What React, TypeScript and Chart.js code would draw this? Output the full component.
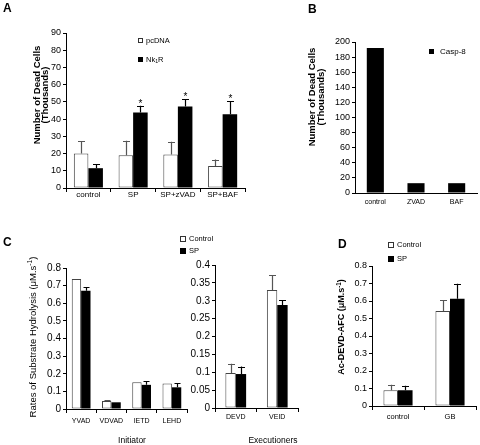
import React, { useEffect, useRef } from 'react';
import { Chart, registerables } from 'chart.js';

Chart.register(...registerables);

const SANS = '"Liberation Sans", Arial, Helvetica, sans-serif';
const NARROW = '"Liberation Sans Narrow", "Liberation Sans", Arial, sans-serif';

// ---------------- Panel A ----------------
const A_CATEGORIES = ['control', 'SP', 'SP+zVAD', 'SP+BAF'];
const A_PCDNA = [20, 19, 19.5, 12.8];
const A_PCDNA_ERR = [7.3, 8.4, 7.3, 3.7];
const A_NK1R = [11.5, 43.8, 47.3, 42.8];
const A_NK1R_ERR = [2.5, 3.9, 4.3, 7.6];
const A_NK1R_SIGNIFICANT = [false, true, true, true];
const A_Y_MAX = 90;
const A_Y_STEP = 10;

// ---------------- Panel B ----------------
const B_CATEGORIES = ['control', 'ZVAD', 'BAF'];
const B_CASP8 = [192, 13, 13];
const B_Y_MAX = 200;
const B_Y_STEP = 20;

// ---------------- Panel C ----------------
const C_INIT_CATEGORIES = ['YVAD', 'VDVAD', 'IETD', 'LEHD'];
const C_INIT_CONTROL = [0.737, 0.046, 0.152, 0.144];
const C_INIT_CONTROL_ERR = [0, 0.003, 0, 0];
const C_INIT_SP = [0.671, 0.038, 0.137, 0.123];
const C_INIT_SP_ERR = [0.021, 0, 0.022, 0.025];
const C_INIT_Y_MAX = 0.8;
const C_INIT_Y_STEP = 0.1;

const C_EXEC_CATEGORIES = ['DEVD', 'VEID'];
const C_EXEC_CONTROL = [0.098, 0.33];
const C_EXEC_CONTROL_ERR = [0.026, 0.042];
const C_EXEC_SP = [0.095, 0.288];
const C_EXEC_SP_ERR = [0.021, 0.013];
const C_EXEC_Y_MAX = 0.4;
const C_EXEC_Y_STEP = 0.05;

// ---------------- Panel D ----------------
const D_CATEGORIES = ['control', 'GB'];
const D_CONTROL = [0.09, 0.543];
const D_CONTROL_ERR = [0.032, 0.061];
const D_SP = [0.09, 0.613];
const D_SP_ERR = [0.026, 0.086];
const D_Y_MAX = 0.8;
const D_Y_STEP = 0.1;

// ---------------- layout ----------------
const W = 480;
const H = 445;
const Y_AXIS_W = 40;
const X_AXIS_H = 20;

type Seg = { t: string; sup?: boolean; sub?: boolean };
type TextSpec = {
  segs: Seg[];
  x: number;
  y: number;
  size: number;
  weight?: string;
  family: string;
  rotate?: boolean;
  align?: 'left' | 'center';
};
type LegendSpec = {
  segs: Seg[];
  fill: string;
  stroke: string;
  boxX: number;
  boxY: number;
  box: number;
  textX: number;
  textY: number;
  size: number;
  family: string;
};
type Decor = { texts: TextSpec[]; legend: LegendSpec[]; cap: number; starSize: number };

type DS = {
  label: string;
  data: number[];
  errors?: number[];
  stars?: boolean[];
  fill: string;
  border: string;
  borderWidth: number;
  errColor: string;
};

type Spec = {
  labels: string[];
  datasets: DS[];
  area: { l: number; t: number; r: number; b: number };
  yMax: number;
  yStep: number;
  yFont: { size: number; family: string };
  xFont: { size: number; family: string };
  xTickLen: number;
  xPad: number;
  catPct: number;
  decor: Decor;
};

function drawRich(ctx: CanvasRenderingContext2D, spec: TextSpec) {
  ctx.save();
  const fontOf = (sz: number) => `${spec.weight || 'normal'} ${sz}px ${spec.family}`;
  const parts = spec.segs.map((s) => {
    const sz = s.sup || s.sub ? spec.size * 0.7 : spec.size;
    ctx.font = fontOf(sz);
    return { s, sz, w: ctx.measureText(s.t).width };
  });
  const total = parts.reduce((a, p) => a + p.w, 0);
  ctx.translate(spec.x, spec.y);
  if (spec.rotate) ctx.rotate(-Math.PI / 2);
  let cx = spec.align === 'left' ? 0 : -total / 2;
  ctx.textBaseline = 'middle';
  ctx.textAlign = 'left';
  ctx.fillStyle = '#000';
  for (const p of parts) {
    ctx.font = fontOf(p.sz);
    const dy = p.s.sup ? -spec.size * 0.35 : p.s.sub ? spec.size * 0.3 : 0;
    ctx.fillText(p.s.t, cx, dy);
    cx += p.w;
  }
  ctx.restore();
}

function decorPlugin(decor: Decor) {
  return {
    id: 'decor',
    afterDatasetsDraw(chart: any) {
      const ctx: CanvasRenderingContext2D = chart.ctx;
      const yScale = chart.scales.y;
      chart.data.datasets.forEach((ds: any, i: number) => {
        if (!ds.errors) return;
        const meta = chart.getDatasetMeta(i);
        meta.data.forEach((el: any, j: number) => {
          const e = ds.errors[j];
          const v = ds.data[j];
          const top = yScale.getPixelForValue(v + (e || 0));
          const x = Math.round(el.x) + 0.5;
          if (e) {
            ctx.save();
            ctx.strokeStyle = ds.errColor;
            ctx.lineWidth = 1.2;
            ctx.beginPath();
            ctx.moveTo(x, el.y);
            ctx.lineTo(x, top);
            const ty = Math.round(top) + 0.5;
            ctx.moveTo(x - decor.cap, ty);
            ctx.lineTo(x + decor.cap, ty);
            ctx.stroke();
            ctx.restore();
          }
          if (ds.stars && ds.stars[j]) {
            ctx.save();
            ctx.fillStyle = '#000';
            ctx.font = `${decor.starSize}px ${SANS}`;
            ctx.textAlign = 'center';
            ctx.textBaseline = 'alphabetic';
            ctx.fillText('*', x, top + 1);
            ctx.restore();
          }
        });
      });
      for (const lg of decor.legend) {
        ctx.save();
        ctx.fillStyle = lg.fill;
        ctx.fillRect(lg.boxX, lg.boxY, lg.box, lg.box);
        ctx.strokeStyle = lg.stroke;
        ctx.lineWidth = 1;
        ctx.strokeRect(lg.boxX + 0.5, lg.boxY + 0.5, lg.box - 1, lg.box - 1);
        ctx.restore();
        drawRich(ctx, {
          segs: lg.segs,
          x: lg.textX,
          y: lg.textY,
          size: lg.size,
          family: lg.family,
          align: 'left',
        });
      }
      for (const t of decor.texts) drawRich(ctx, t);
    },
  };
}

function makeConfig(spec: Spec): any {
  const fmt = (v: any) => String(Math.round(Number(v) * 1000) / 1000);
  return {
    type: 'bar',
    data: {
      labels: spec.labels,
      datasets: spec.datasets.map((d) => ({
        label: d.label,
        data: d.data,
        errors: d.errors,
        stars: d.stars,
        errColor: d.errColor,
        backgroundColor: d.fill,
        borderColor: d.border,
        borderWidth: d.borderWidth,
        borderSkipped: false,
        categoryPercentage: spec.catPct,
        barPercentage: 1,
      })),
    },
    options: {
      responsive: false,
      maintainAspectRatio: false,
      animation: false,
      devicePixelRatio: 1,
      events: [],
      layout: {
        padding: {
          left: spec.area.l - Y_AXIS_W,
          top: spec.area.t,
          right: W - spec.area.r,
          bottom: H - spec.area.b - X_AXIS_H,
        },
      },
      plugins: {
        legend: { display: false },
        tooltip: { enabled: false },
        title: { display: false },
      },
      scales: {
        x: {
          type: 'category',
          offset: true,
          grid: {
            offset: true,
            drawOnChartArea: false,
            drawTicks: spec.xTickLen > 0,
            tickLength: spec.xTickLen,
            color: '#000',
            lineWidth: 1,
          },
          border: { display: true, color: '#000', width: 1 },
          ticks: {
            font: { size: spec.xFont.size, family: spec.xFont.family },
            color: '#000',
            padding: spec.xPad,
            maxRotation: 0,
            minRotation: 0,
            autoSkip: false,
          },
          afterFit: (s: any) => {
            s.height = X_AXIS_H;
          },
        },
        y: {
          min: 0,
          max: spec.yMax,
          ticks: {
            stepSize: spec.yStep,
            font: { size: spec.yFont.size, family: spec.yFont.family },
            color: '#000',
            padding: 2,
            callback: fmt,
          },
          grid: { drawOnChartArea: false, tickLength: 3, color: '#000', lineWidth: 1 },
          border: { display: true, color: '#000', width: 1 },
          afterFit: (s: any) => {
            s.width = Y_AXIS_W;
          },
        },
      },
    },
    plugins: [decorPlugin(spec.decor)],
  };
}

const WHITE = '#ffffff';
const BLACK = '#000000';
const OUTLINE = '#444444';
const UNIT: Seg[] = [{ t: 'M.s' }, { t: '-1', sup: true }, { t: ')' }];

function configA() {
  return makeConfig({
    labels: A_CATEGORIES,
    datasets: [
      { label: 'pcDNA', data: A_PCDNA, errors: A_PCDNA_ERR, fill: WHITE, border: OUTLINE, borderWidth: 1, errColor: '#555' },
      { label: 'Nk1R', data: A_NK1R, errors: A_NK1R_ERR, stars: A_NK1R_SIGNIFICANT, fill: BLACK, border: BLACK, borderWidth: 0, errColor: '#000' },
    ],
    area: { l: 66, t: 33, r: 245, b: 188 },
    yMax: A_Y_MAX,
    yStep: A_Y_STEP,
    yFont: { size: 9, family: NARROW },
    xFont: { size: 8, family: NARROW },
    xTickLen: 4,
    xPad: -2,
    catPct: 0.65,
    decor: {
      cap: 3.5,
      starSize: 10,
      texts: [
        { segs: [{ t: 'A' }], x: 3, y: 9, size: 12, weight: 'bold', family: SANS, align: 'left' },
        { segs: [{ t: 'Number of Dead Cells' }], x: 37, y: 95, size: 9.5, weight: 'bold', family: NARROW, rotate: true },
        { segs: [{ t: '(Thousands)' }], x: 45.5, y: 95, size: 9.5, weight: 'bold', family: NARROW, rotate: true },
      ],
      legend: [
        { segs: [{ t: 'pcDNA' }], fill: WHITE, stroke: '#333', boxX: 138, boxY: 38, box: 5, textX: 146, textY: 40.5, size: 7.5, family: NARROW },
        { segs: [{ t: 'Nk' }, { t: '1', sub: true }, { t: 'R' }], fill: BLACK, stroke: BLACK, boxX: 138, boxY: 57, box: 5, textX: 146, textY: 59.5, size: 7.5, family: NARROW },
      ],
    },
  });
}

function configB() {
  return makeConfig({
    labels: B_CATEGORIES,
    datasets: [{ label: 'Casp-8', data: B_CASP8, fill: BLACK, border: BLACK, borderWidth: 0, errColor: '#000' }],
    area: { l: 355, t: 42, r: 477, b: 193 },
    yMax: B_Y_MAX,
    yStep: B_Y_STEP,
    yFont: { size: 9, family: SANS },
    xFont: { size: 7, family: SANS },
    xTickLen: 0,
    xPad: 5,
    catPct: 0.42,
    decor: {
      cap: 3,
      starSize: 10,
      texts: [
        { segs: [{ t: 'B' }], x: 308, y: 10, size: 12, weight: 'bold', family: SANS, align: 'left' },
        { segs: [{ t: 'Number of Dead Cells' }], x: 312, y: 97, size: 9.5, weight: 'bold', family: NARROW, rotate: true },
        { segs: [{ t: '(Thousands)' }], x: 321, y: 97, size: 9.5, weight: 'bold', family: NARROW, rotate: true },
      ],
      legend: [
        { segs: [{ t: 'Casp-8' }], fill: BLACK, stroke: BLACK, boxX: 429, boxY: 49, box: 5, textX: 440, textY: 52, size: 8, family: SANS },
      ],
    },
  });
}

function configC1() {
  return makeConfig({
    labels: C_INIT_CATEGORIES,
    datasets: [
      { label: 'Control', data: C_INIT_CONTROL, errors: C_INIT_CONTROL_ERR, fill: WHITE, border: OUTLINE, borderWidth: 1, errColor: '#555' },
      { label: 'SP', data: C_INIT_SP, errors: C_INIT_SP_ERR, fill: BLACK, border: BLACK, borderWidth: 0, errColor: '#000' },
    ],
    area: { l: 66, t: 268, r: 187, b: 409 },
    yMax: C_INIT_Y_MAX,
    yStep: C_INIT_Y_STEP,
    yFont: { size: 10, family: SANS },
    xFont: { size: 7, family: SANS },
    xTickLen: 4,
    xPad: 4,
    catPct: 0.62,
    decor: {
      cap: 3,
      starSize: 10,
      texts: [
        { segs: [{ t: 'C' }], x: 3, y: 242.5, size: 12, weight: 'bold', family: SANS, align: 'left' },
        { segs: [{ t: 'Rates of Substrate Hydrolysis (\u03bc' }, ...UNIT], x: 33, y: 337, size: 9.5, family: SANS, rotate: true },
        { segs: [{ t: 'Initiator' }], x: 132, y: 441, size: 8.5, family: SANS },
        { segs: [{ t: 'Executioners' }], x: 273, y: 441, size: 8.5, family: SANS },
      ],
      legend: [
        { segs: [{ t: 'Control' }], fill: WHITE, stroke: '#333', boxX: 180, boxY: 236, box: 6, textX: 189, textY: 239, size: 7.5, family: SANS },
        { segs: [{ t: 'SP' }], fill: BLACK, stroke: BLACK, boxX: 180, boxY: 248, box: 6, textX: 189, textY: 251, size: 7.5, family: SANS },
      ],
    },
  });
}

function configC2() {
  return makeConfig({
    labels: C_EXEC_CATEGORIES,
    datasets: [
      { label: 'Control', data: C_EXEC_CONTROL, errors: C_EXEC_CONTROL_ERR, fill: WHITE, border: OUTLINE, borderWidth: 1, errColor: '#555' },
      { label: 'SP', data: C_EXEC_SP, errors: C_EXEC_SP_ERR, fill: BLACK, border: BLACK, borderWidth: 0, errColor: '#000' },
    ],
    area: { l: 215, t: 265, r: 298, b: 408 },
    yMax: C_EXEC_Y_MAX,
    yStep: C_EXEC_Y_STEP,
    yFont: { size: 10, family: SANS },
    xFont: { size: 7, family: SANS },
    xTickLen: 4,
    xPad: 1,
    catPct: 0.5,
    decor: { cap: 3.5, starSize: 10, texts: [], legend: [] },
  });
}

function configD() {
  return makeConfig({
    labels: D_CATEGORIES,
    datasets: [
      { label: 'Control', data: D_CONTROL, errors: D_CONTROL_ERR, fill: WHITE, border: OUTLINE, borderWidth: 1, errColor: '#555' },
      { label: 'SP', data: D_SP, errors: D_SP_ERR, fill: BLACK, border: BLACK, borderWidth: 0, errColor: '#000' },
    ],
    area: { l: 372, t: 266, r: 476, b: 406 },
    yMax: D_Y_MAX,
    yStep: D_Y_STEP,
    yFont: { size: 9, family: SANS },
    xFont: { size: 7.5, family: SANS },
    xTickLen: 4,
    xPad: 2,
    catPct: 0.56,
    decor: {
      cap: 3.5,
      starSize: 10,
      texts: [
        { segs: [{ t: 'D' }], x: 338, y: 245, size: 12, weight: 'bold', family: SANS, align: 'left' },
        { segs: [{ t: 'Ac-DEVD-AFC (\u03bc' }, ...UNIT], x: 342, y: 327, size: 9, weight: 'bold', family: SANS, rotate: true },
      ],
      legend: [
        { segs: [{ t: 'Control' }], fill: WHITE, stroke: '#333', boxX: 388, boxY: 242, box: 6, textX: 397, textY: 245, size: 7.5, family: SANS },
        { segs: [{ t: 'SP' }], fill: BLACK, stroke: BLACK, boxX: 388, boxY: 256, box: 6, textX: 397, textY: 259, size: 7.5, family: SANS },
      ],
    },
  });
}

export default function App() {
  const refA = useRef<HTMLCanvasElement>(null);
  const refB = useRef<HTMLCanvasElement>(null);
  const refC1 = useRef<HTMLCanvasElement>(null);
  const refC2 = useRef<HTMLCanvasElement>(null);
  const refD = useRef<HTMLCanvasElement>(null);

  useEffect(() => {
    const pairs: [React.RefObject<HTMLCanvasElement>, () => any][] = [
      [refA, configA],
      [refB, configB],
      [refC1, configC1],
      [refC2, configC2],
      [refD, configD],
    ];
    const charts: Chart[] = [];
    for (const [ref, cfg] of pairs) {
      if (ref.current) charts.push(new Chart(ref.current, cfg()));
    }
    return () => charts.forEach((c) => c.destroy());
  }, []);

  const canvasStyle: React.CSSProperties = { position: 'absolute', left: 0, top: 0, width: W, height: H };
  return (
    <div style={{ position: 'absolute', left: 0, top: 0, width: W, height: H, background: '#fff', overflow: 'hidden' }}>
      <canvas ref={refA} width={W} height={H} style={canvasStyle} />
      <canvas ref={refB} width={W} height={H} style={canvasStyle} />
      <canvas ref={refC1} width={W} height={H} style={canvasStyle} />
      <canvas ref={refC2} width={W} height={H} style={canvasStyle} />
      <canvas ref={refD} width={W} height={H} style={canvasStyle} />
    </div>
  );
}
